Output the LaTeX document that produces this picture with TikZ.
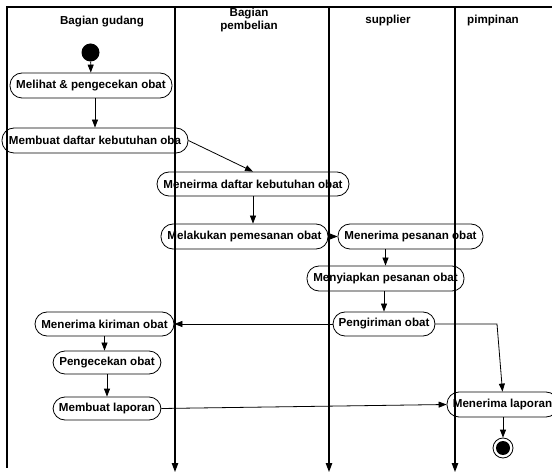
\documentclass[tikz,border=0pt]{standalone}
\usepackage{fontspec}
\setmainfont{Liberation Sans}
\usetikzlibrary{arrows.meta}
\begin{document}
\begin{tikzpicture}[x=1pt,y=-1pt,
  lbl/.style={font=\fontsize{11.6}{13}\selectfont\bfseries},
  act/.style={draw,line width=0.8pt,rounded corners=12pt,inner sep=0pt,
    font=\fontsize{11.6}{13}\selectfont\bfseries},
  arr/.style={line width=0.8pt,-{Triangle[length=8pt,width=6pt]}},
  lane/.style={line width=1.1pt},
  lanearr/.style={line width=1.1pt,-{Triangle[length=9pt,width=6.5pt]}}]
\useasboundingbox (0,0) rectangle (552,473);

% swimlane frame
\coordinate (tl) at (7,7);
\coordinate (tr) at (552,7);
\coordinate (bl) at (7,468);
\coordinate (d1t) at (175,7);
\coordinate (d1b) at (175,472);
\coordinate (d2t) at (329,7);
\coordinate (d2b) at (329,472);
\coordinate (d3t) at (455,7);
\coordinate (d3b) at (455,472);
\draw[lane] (tr) -- (tl) -- (bl);
\draw[lanearr] (d1t) -- (d1b);
\draw[lanearr] (d2t) -- (d2b);
\draw[lanearr] (d3t) -- (d3b);

% lane headers
\node[lbl,anchor=base] (h1) at (102,25) {Bagian gudang};
\node[lbl,anchor=base,align=center] (h2) at (249,30) {Bagian\\pembelian};
\node[lbl,anchor=base] (h3) at (388,24) {supplier};
\node[lbl,anchor=base] (h4) at (493,24) {pimpinan};

% activities
\node[circle,fill=black,minimum size=18pt,inner sep=0pt] (start) at (90.5,52.5) {};
\node[act,minimum width=162pt,minimum height=25pt] (n1) at (91,85.5) {Melihat \& pengecekan obat};
\node[act,minimum width=186pt,minimum height=25pt] (n2) at (95,140.5) {Membuat daftar kebutuhan oba};
\node[act,minimum width=192pt,minimum height=24pt] (n3) at (253,184) {Meneirma daftar kebutuhan obat};
\node[act,minimum width=167pt,minimum height=25pt] (n4) at (244.5,236.5) {Melakukan pemesanan obat};
\node[act,minimum width=145pt,minimum height=25pt] (n5) at (410.5,236.5) {Menerima pesanan obat};
\node[act,minimum width=157pt,minimum height=25pt] (n6) at (385.5,278.5) {Menyiapkan pesanan obat};
\node[act,minimum width=102pt,minimum height=24pt] (n7) at (384,324) {Pengiriman obat};
\node[act,minimum width=139pt,minimum height=24pt] (n8) at (104.5,324) {Menerima kiriman obat};
\node[act,minimum width=108pt,minimum height=23pt] (n9) at (107,362.5) {Pengecekan obat};
\node[act,minimum width=108pt,minimum height=23pt] (n10) at (107,408.5) {Membuat laporan};
\node[act,minimum width=111pt,minimum height=25pt] (n11) at (502.5,404.5) {Menerima laporan};
\node[circle,draw,line width=0.8pt,minimum size=20pt,inner sep=0pt] (end) at (503,448) {};
\node[circle,fill=black,minimum size=14pt,inner sep=0pt] (endin) at (end) {};

% flows
\draw[arr] (start) -- (n1);
\draw[arr] (n2.north |- n1.south) -- (n2.north);
\draw[arr] (n2.east) -- (n3.north);
\draw[arr] (n3.south) -- (n3.south |- n4.north);
\draw[arr] (n4.east) -- (n5.west);
\draw[arr] (n6.north |- n5.south) -- (n6.north);
\draw[arr] (n7.north |- n6.south) -- (n7.north);
\draw[arr] (n7.west) -- (n8.east);
\coordinate (bend) at (497,324);
\draw[arr] (n7.east) -- (bend) -- (n11.north);
\draw[arr] (n8.south) -- (n8.south |- n9.north);
\draw[arr] (n9) -- (n10);
\draw[arr] (n10.east) -- (n11.west);
\draw[arr] (n11.south -| end) -- (end);
\end{tikzpicture}
\end{document}
